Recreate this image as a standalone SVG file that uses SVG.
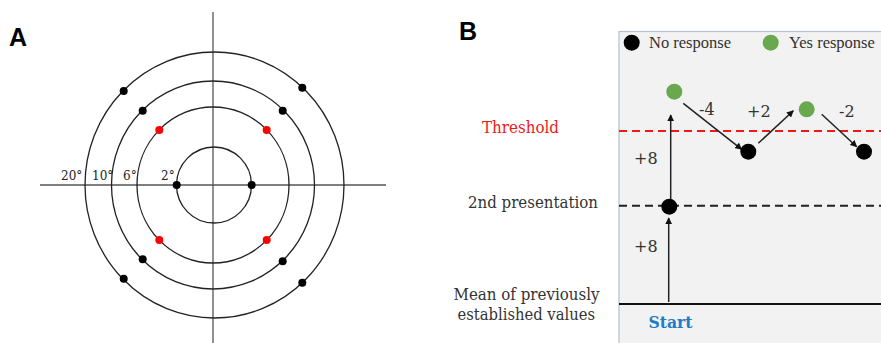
<svg xmlns="http://www.w3.org/2000/svg" width="881" height="343" viewBox="0 0 881 343">
<style>
.ax{stroke:#555;stroke-width:1.3;fill:none}
.ring{stroke:#222;stroke-width:1.3;fill:none}
.deg{font-family:"DejaVu Serif","Liberation Serif",serif;font-size:12px;fill:#222}
.lbl{font-family:"DejaVu Serif","Liberation Serif",serif;font-size:16px;fill:#333}
.leg{font-family:"Liberation Serif","DejaVu Serif",serif;font-size:16.5px;fill:#333}
.pan{font-family:"Liberation Sans",Arial,sans-serif;font-size:25px;font-weight:bold;fill:#000}
.arr{stroke:#222;stroke-width:1.5;fill:none;marker-end:url(#ah)}
</style>
<defs>
<marker id="ah" viewBox="0 0 10 10" refX="9" refY="5" markerWidth="7" markerHeight="7" orient="auto" markerUnits="userSpaceOnUse">
<path d="M0,0 L10,5 L0,10 z" fill="#111"/>
</marker>
</defs>
<rect width="881" height="343" fill="#fff"/>
<text class="pan" x="9" y="46">A</text>
<text class="pan" x="459" y="40">B</text>
<g id="panelA">
<line class="ax" x1="213" y1="12" x2="213" y2="343"/>
<line class="ax" x1="40" y1="185" x2="386" y2="185"/>
<ellipse class="ring" cx="214" cy="185" rx="37.5" ry="38"/>
<ellipse class="ring" cx="213" cy="185" rx="76" ry="78"/>
<ellipse class="ring" cx="213" cy="185" rx="101.5" ry="104"/>
<ellipse class="ring" cx="214.5" cy="185" rx="129.5" ry="133"/>
<g fill="#000">
<circle cx="176.7" cy="185" r="4"/><circle cx="251.7" cy="185" r="4"/>
<circle cx="142.7" cy="110.7" r="4"/><circle cx="282.7" cy="110.7" r="4"/>
<circle cx="142.7" cy="259.3" r="4"/><circle cx="282.7" cy="261.3" r="4"/>
<circle cx="123.7" cy="91" r="4"/><circle cx="302.3" cy="87.7" r="4"/>
<circle cx="123.7" cy="278.7" r="4"/><circle cx="302.3" cy="282.7" r="4"/>
</g>
<g fill="#f00">
<circle cx="159.3" cy="130" r="4"/><circle cx="266.7" cy="130" r="4"/>
<circle cx="159.3" cy="240" r="4"/><circle cx="266.7" cy="240" r="4"/>
</g>
<text class="deg" x="61" y="180">20°</text>
<text class="deg" x="92" y="180">10°</text>
<text class="deg" x="123" y="180">6°</text>
<text class="deg" x="161" y="180">2°</text>
</g>
<g id="panelB">
<rect x="619" y="31.5" width="270" height="320" fill="#f2f2f2" stroke="#b4c0cc" stroke-width="1.2"/>
<line x1="619" y1="304" x2="881" y2="304" stroke="#111" stroke-width="2"/>
<line x1="619" y1="131" x2="881" y2="131" stroke="#f01818" stroke-width="2" stroke-dasharray="8,5"/>
<line x1="619" y1="205.7" x2="881" y2="205.7" stroke="#222" stroke-width="2" stroke-dasharray="8,5"/>
<g id="legend">
<circle cx="631.7" cy="42.7" r="8" fill="#000"/>
<text class="leg" x="649" y="48">No response</text>
<circle cx="770.7" cy="42.7" r="8" fill="#6aa84f"/>
<text class="leg" x="789" y="48">Yes response</text>
</g>
<text class="lbl" x="482" y="133" style="fill:#f01818" textLength="77" lengthAdjust="spacingAndGlyphs">Threshold</text>
<text class="lbl" x="468" y="208" textLength="130" lengthAdjust="spacingAndGlyphs">2nd presentation</text>
<text class="lbl" x="453.5" y="300" textLength="146" lengthAdjust="spacingAndGlyphs">Mean of previously</text>
<text class="lbl" x="457.5" y="319.5" textLength="137.5" lengthAdjust="spacingAndGlyphs">established values</text>
<text x="648.5" y="328" font-family="DejaVu Serif,Liberation Serif,serif" font-size="16" font-weight="bold" fill="#1c7cc6" textLength="44" lengthAdjust="spacingAndGlyphs">Start</text>
<g id="connectors">
<line class="arr" x1="668.7" y1="302" x2="668.7" y2="218"/>
<line class="arr" x1="670.7" y1="200" x2="670.7" y2="115"/>
<line class="arr" x1="683.3" y1="103.3" x2="741.7" y2="149.3"/>
<line class="arr" x1="758.3" y1="143.3" x2="793.3" y2="110.7"/>
<line class="arr" x1="821.7" y1="114.3" x2="856.7" y2="146.7"/>
</g>
<g id="points">
<circle id="p1" cx="669.3" cy="206.7" r="8" fill="#000"/>
<circle id="p2" cx="674.3" cy="91.7" r="8" fill="#6aa84f"/>
<circle id="p3" cx="748.3" cy="151.7" r="8" fill="#000"/>
<circle id="p4" cx="806.7" cy="109.3" r="8" fill="#6aa84f"/>
<circle id="p5" cx="864" cy="151.7" r="8" fill="#000"/>
</g>
<text class="lbl" x="634" y="163.5" font-size="15">+8</text>
<text class="lbl" x="634" y="251.5" font-size="15">+8</text>
<text class="lbl" x="699" y="115" font-size="15">-4</text>
<text class="lbl" x="747" y="117" font-size="15">+2</text>
<text class="lbl" x="839" y="117" font-size="15">-2</text>
</g>
</svg>
